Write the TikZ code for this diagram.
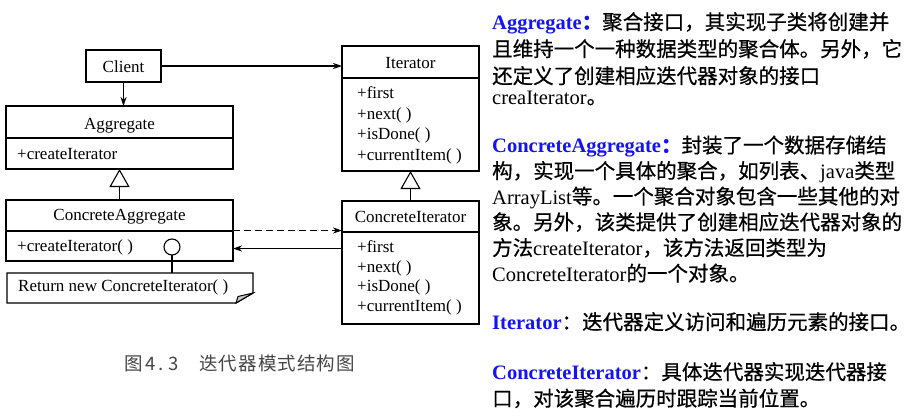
\documentclass[tikz,border=0pt]{standalone}
\usepackage{fontspec}
\setmainfont{Liberation Serif}
\newfontfamily\cjk[FakeBold=0.6]{Noto Sans CJK SC}
\newfontfamily\cjkcap{Noto Sans CJK SC}
\usetikzlibrary{arrows.meta,calc}
\definecolor{hdblue}{RGB}{20,20,240}
\definecolor{capgray}{RGB}{70,70,70}
\newcommand\zh[1]{{\cjk #1}}
\newcommand\hd[1]{\textcolor{hdblue}{\bfseries #1}}
\begin{document}
\begin{tikzpicture}[x=1pt,y=-1pt,
 box/.style={draw, line width=1.3pt, outer sep=0pt, inner sep=0pt, anchor=north west},
 divl/.style={line width=1.3pt},
 lbl/.style={inner sep=0pt, anchor=base, font=\fontsize{17}{20}\selectfont},
 item/.style={lbl, anchor=base west},
 rt/.style={inner sep=0pt, anchor=base west, font=\fontsize{20.5}{24}\selectfont},
 captxt/.style={inner sep=0pt, anchor=base west, text=capgray, font=\cjkcap\fontsize{18.5}{20}\selectfont},
 conn/.style={line width=1.1pt},
 tipa/.style={-{Stealth[length=9pt,width=6pt]}},
 inh/.style={-{Triangle[open,length=18pt,width=20pt,line width=1.1pt]}},
]
\useasboundingbox (0,0) rectangle (916,416);
\fill[white] (0,0) rectangle (916,416);

% Client
\node[box, minimum width=75pt, minimum height=32pt] (client) at (86,50) {};
\node[lbl] (clientt) at (123.5,72.5) {Client};

% Aggregate
\node[box, minimum width=227pt, minimum height=63pt] (agg) at (6,106) {};
\draw[divl] ($(agg.north west)+(0,32)$) -- ($(agg.north east)+(0,32)$);
\node[lbl] (aggt) at (119.5,129) {Aggregate};
\node[item] (aggm) at (17,159) {+createIterator};

% ConcreteAggregate
\node[box, minimum width=227pt, minimum height=61pt] (cagg) at (6,200) {};
\draw[divl] ($(cagg.north west)+(0,31)$) -- ($(cagg.north east)+(0,31)$);
\node[lbl] (caggt) at (119.5,220.5) {ConcreteAggregate};
\node[item] (caggm) at (17,251) {+createIterator( )};

% Iterator
\node[box, minimum width=137pt, minimum height=125pt] (it) at (342,46) {};
\draw[divl] ($(it.north west)+(0,32)$) -- ($(it.north east)+(0,32)$);
\node[lbl] (itt) at (410.5,68.3) {Iterator};
\node[item] (it1) at (357,98.5) {+first};
\node[item] (it2) at (357,119.2) {+next( )};
\node[item] (it3) at (357,139.8) {+isDone( )};
\node[item] (it4) at (357,160.4) {+currentItem( )};

% ConcreteIterator
\node[box, minimum width=137pt, minimum height=123pt] (cit) at (342,201) {};
\draw[divl] ($(cit.north west)+(0,31)$) -- ($(cit.north east)+(0,31)$);
\node[lbl] (citt) at (410.5,222.3) {ConcreteIterator};
\node[item] (cit1) at (357,252.5) {+first};
\node[item] (cit2) at (357,272.2) {+next( )};
\node[item] (cit3) at (357,291.9) {+isDone( )};
\node[item] (cit4) at (357,311.6) {+currentItem( )};

% Note
\node[inner sep=0pt, outer sep=0pt, minimum width=246pt, minimum height=30pt, anchor=north west] (note) at (7,273) {};
\draw[line width=1.3pt, line join=miter] (note.south west) -- (note.north west) -- (note.north east)
  -- ($(note.north east)+(0,20)$) -- ($(note.south east)+(-17,0)$) -- cycle;
\filldraw[fill=gray!45, line width=1pt] ($(note.south east)+(-17,0)$) -- ($(note.south east)+(-15,-6.5)$)
  -- ($(note.north east)+(0,20)$) -- cycle;
\node[item] (notet) at (18,291) {Return new ConcreteIterator( )};

% lollipop
\node[draw, circle, minimum size=16pt, inner sep=0pt, outer sep=0pt, line width=1.1pt] (circ) at (172,247) {};
\draw[conn] (circ.south) -- (circ.south |- note.north);

% connectors
\draw[conn,tipa] (client.east) -- (client.east -| it.west);
\draw[conn,tipa] (client.south) -- (client.south |- agg.north);
\draw[conn,inh] (cagg.north) -- (agg.south);
\draw[conn,inh] (cit.north) -- (it.south);
\draw[conn,tipa,dash pattern=on 7pt off 4pt] (cagg.east) -- (cagg.east -| cit.west);
\coordinate (sa) at ([yshift=-18pt]cagg.east);
\coordinate (sb) at (sa -| cit.west);
\draw[conn,tipa] (sb) -- (sa);

% caption
\node[captxt] (capa) at (124,370) {图};
\node[captxt] (capb) at (145,370) {4};
\node[captxt] (capc) at (158.5,370) {.};
\node[captxt] (capd) at (168,370) {3};
\foreach \c [count=\i] in {迭,代,器,模,式,结,构,图}
  \node[captxt] (cc\i) at ({199+(\i-1)*19.6},370) {\c};

% right text
\node[rt] (r11) at (492,29.5) {\hd{Aggregate\zh{：}}\zh{聚合接口，其实现子类将创建并}};
\node[rt] (r12) at (492,56.5) {\zh{且维持一个一种数据类型的聚合体。另外，它}};
\node[rt] (r13) at (492,83.5) {\zh{还定义了创建相应迭代器对象的接口}};
\node[rt] (r14) at (492,104) {creaIterator\zh{。}};

\node[rt] (r21) at (492,152.8) {\hd{ConcreteAggregate\zh{：}}\zh{封装了一个数据存储结}};
\node[rt] (r22) at (492,178.4) {\zh{构，实现一个具体的聚合，如列表、}java\zh{类型}};
\node[rt] (r23) at (492,204) {ArrayList\zh{等。一个聚合对象包含一些其他的对}};
\node[rt] (r24) at (492,229.7) {\zh{象。另外，该类提供了创建相应迭代器对象的}};
\node[rt] (r25) at (492,255.4) {\zh{方法}createIterator\zh{，该方法返回类型为}};
\node[rt] (r26) at (492,281) {ConcreteIterator\zh{的一个对象。}};

\node[rt] (r31) at (492,329.5) {\hd{Iterator}\zh{：迭代器定义访问和遍历元素的接口。}};

\node[rt] (r41) at (492,379.5) {\hd{ConcreteIterator}\zh{：具体迭代器实现迭代器接}};
\node[rt] (r42) at (492,406) {\zh{口，对该聚合遍历时跟踪当前位置。}};
\end{tikzpicture}
\end{document}
